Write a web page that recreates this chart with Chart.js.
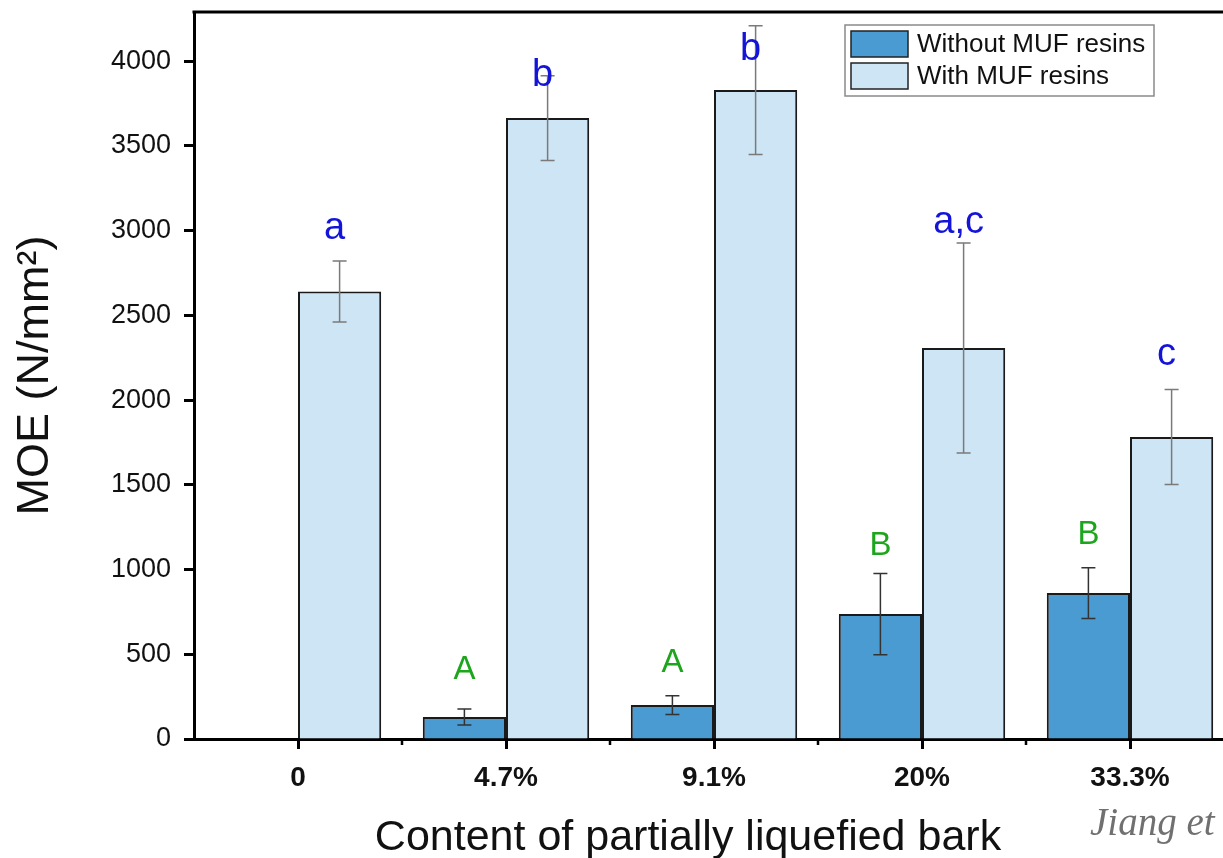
<!DOCTYPE html>
<html><head><meta charset="utf-8">
<script src="https://cdn.jsdelivr.net/npm/chart.js@4.4.1/dist/chart.umd.min.js"></script>
<style>html,body{margin:0;padding:0;background:#fff;overflow:hidden;}#wrap{width:1223px;height:858px;overflow:hidden;position:relative;background:#fff}canvas{position:absolute;left:0;top:0}</style>
</head><body><div id="wrap"><canvas id="c" width="1245" height="858"></canvas></div>
<script>
const categories = ['0', '4.7%', '9.1%', '20%', '33.3%'];
const withoutMUF = [null, 130, 200, 737, 861];
const withoutErr = [null, 47, 55, 240, 150];
const withMUF = [2640, 3664, 3829, 2307, 1782];
const withErr = [180, 250, 380, 620, 280];
const withoutLetters = ['', 'A', 'A', 'B', 'B'];
const withoutLetterAt = [null, 407, 448, 1139, 1204];
const withLetters = ['a', 'b', 'b', 'a,c', 'c'];
const withLetterAt = [3010, 3917, 4071, 3050, 2271];
const yTickValues = [0, 500, 1000, 1500, 2000, 2500, 3000, 3500, 4000];
const seriesNames = ['Without MUF resins', 'With MUF resins'];

const DARK = '#4a9bd2', LIGHT = '#cde5f4';

const extras = {
  id: 'extras',
  afterDatasetsDraw(chart) {
    const ctx = chart.ctx, y = chart.scales.y;
    const errs = [withoutErr, withErr];
    const vals = [withoutMUF, withMUF];
    const errColors = ['#333', '#7a7a7a'];
    const letters = [withoutLetters, withLetters];
    const letterAt = [withoutLetterAt, withLetterAt];
    const letterColors = ['#1ea51e', '#1414d8'];
    const letterFonts = ['33px "Liberation Sans", Arial, sans-serif', '38px "Liberation Sans", Arial, sans-serif'];
    const letterShift = [0, -5];
    for (let d = 0; d < 2; d++) {
      const meta = chart.getDatasetMeta(d);
      meta.data.forEach((el, j) => {
        const v = vals[d][j], e = errs[d][j];
        if (v == null) return;
        const yt = y.getPixelForValue(v + e), yb = y.getPixelForValue(v - e);
        ctx.save();
        ctx.strokeStyle = errColors[d]; ctx.lineWidth = 1.5;
        ctx.beginPath();
        ctx.moveTo(el.x, yt); ctx.lineTo(el.x, yb);
        ctx.moveTo(el.x - 7, yt); ctx.lineTo(el.x + 7, yt);
        ctx.moveTo(el.x - 7, yb); ctx.lineTo(el.x + 7, yb);
        ctx.stroke();
        ctx.restore();
      });
    }
    for (let d = 0; d < 2; d++) {
      const meta = chart.getDatasetMeta(d);
      meta.data.forEach((el, j) => {
        const t = letters[d][j];
        if (!t) return;
        ctx.save();
        ctx.fillStyle = letterColors[d];
        ctx.font = letterFonts[d];
        ctx.textAlign = 'center'; ctx.textBaseline = 'middle';
        ctx.fillText(t, el.x + letterShift[d], y.getPixelForValue(letterAt[d][j]));
        ctx.restore();
      });
    }
  },
  afterDraw(chart) {
    const ctx = chart.ctx, a = chart.chartArea, x = chart.scales.x;
    ctx.save();
    // top frame line
    ctx.strokeStyle = '#000'; ctx.lineWidth = 3;
    ctx.beginPath(); ctx.moveTo(a.left - 1.5, a.top); ctx.lineTo(a.right + 2, a.top); ctx.stroke();
    ctx.beginPath(); ctx.moveTo(a.right, a.top); ctx.lineTo(a.right, a.bottom); ctx.stroke();
    // minor ticks between categories
    ctx.lineWidth = 2.5;
    for (let i = 0; i < categories.length - 1; i++) {
      const px = (x.getPixelForValue(i) + x.getPixelForValue(i + 1)) / 2;
      ctx.beginPath(); ctx.moveTo(px, a.bottom); ctx.lineTo(px, a.bottom + 6); ctx.stroke();
    }
    // legend
    const lx = a.left + 651, ly = a.top + 13;
    ctx.fillStyle = '#fff';
    ctx.fillRect(lx, ly, 309, 71);
    ctx.strokeStyle = '#8a8a8a'; ctx.lineWidth = 1.5;
    ctx.strokeRect(lx, ly, 309, 71);
    const fills = [DARK, LIGHT];
    for (let i = 0; i < 2; i++) {
      const sy = ly + 6 + i * 32;
      ctx.fillStyle = fills[i];
      ctx.fillRect(lx + 6, sy, 57, 26);
      ctx.strokeStyle = '#222'; ctx.lineWidth = 1.5;
      ctx.strokeRect(lx + 6, sy, 57, 26);
      ctx.fillStyle = '#111';
      ctx.font = '26px "Liberation Sans", Arial, sans-serif';
      ctx.textAlign = 'left'; ctx.textBaseline = 'middle';
      ctx.fillText(seriesNames[i], lx + 72, sy + 14);
    }
    // x axis title
    ctx.fillStyle = '#111';
    ctx.font = '43px "Liberation Sans", Arial, sans-serif';
    ctx.textAlign = 'center'; ctx.textBaseline = 'alphabetic';
    ctx.fillText('Content of partially liquefied bark', a.left + 494, 850);
    // source note
    ctx.fillStyle = '#707070';
    ctx.font = 'italic 39px "Liberation Serif", serif';
    ctx.textAlign = 'left';
    ctx.fillText('Jiang et', 1090, 835);
    ctx.restore();
  }
};

new Chart(document.getElementById('c'), {
  type: 'bar',
  data: {
    labels: categories,
    datasets: [
      { label: seriesNames[0], data: withoutMUF, backgroundColor: DARK, borderColor: '#1a1a1a', borderWidth: 2, categoryPercentage: 0.8, barPercentage: 1.0 },
      { label: seriesNames[1], data: withMUF, backgroundColor: LIGHT, borderColor: '#1a1a1a', borderWidth: 2, categoryPercentage: 0.8, barPercentage: 1.0 }
    ]
  },
  options: {
    responsive: false,
    devicePixelRatio: 1,
    animation: false,
    layout: { padding: { left: 0, top: 12, right: 11, bottom: 0 } },
    plugins: { legend: { display: false }, tooltip: { enabled: false } },
    scales: {
      x: {
        offset: true,
        grid: { offset: false, drawOnChartArea: false, drawTicks: true, tickLength: 10, tickWidth: 3, tickColor: '#000' },
        border: { display: true, color: '#000', width: 3 },
        ticks: { color: '#111', font: { family: '"Liberation Sans", Arial, sans-serif', size: 28, weight: 'bold' }, padding: 12, maxRotation: 0 },
        afterFit(s) { s.height = 119; s.paddingLeft = 0; s.paddingRight = 0; }
      },
      y: {
        min: 0, max: 4290,
        afterBuildTicks(s) { s.ticks = yTickValues.map(v => ({ value: v })); },
        grid: { drawOnChartArea: false, drawTicks: true, tickLength: 10, tickWidth: 3, tickColor: '#000' },
        border: { display: true, color: '#000', width: 3 },
        ticks: { color: '#111', font: { family: '"Liberation Sans", Arial, sans-serif', size: 27 }, padding: 13, callback: v => String(v) },
        title: { display: true, text: 'MOE (N/mm²)', color: '#111', font: { family: '"Liberation Sans", Arial, sans-serif', size: 45 }, padding: { top: 9, bottom: 0 } },
        afterFit(s) { s.width = 194; s.paddingTop = 0; s.paddingBottom = 0; }
      }
    }
  },
  plugins: [extras]
});
</script></body></html>
